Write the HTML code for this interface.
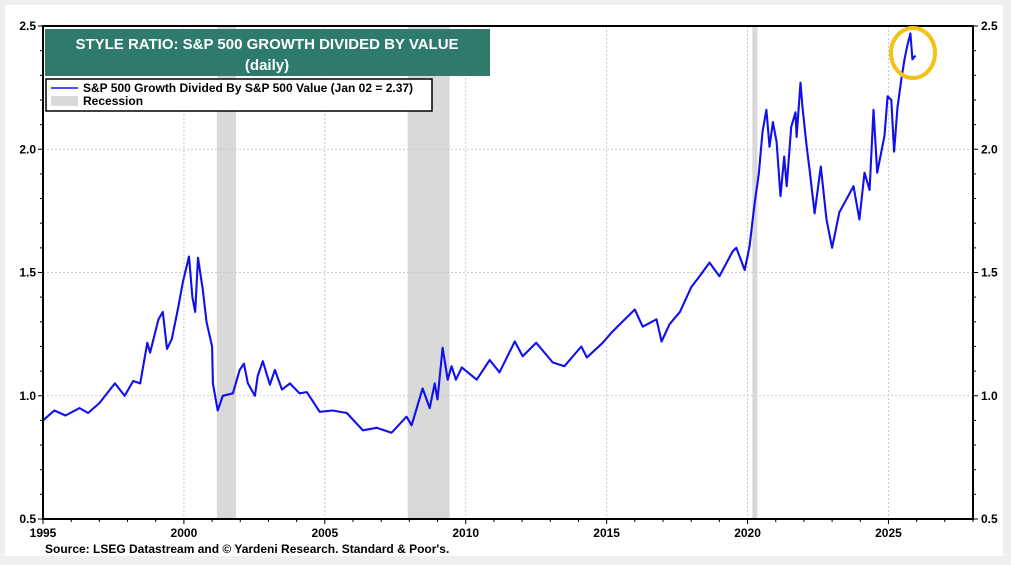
<!DOCTYPE html>
<html><head><meta charset="utf-8"><style>
body{margin:0;background:#efefef;font-family:"Liberation Sans",Arial,sans-serif;}
#wrap{position:absolute;left:0;top:0;width:1011px;height:565px;background:#efefef;}
#panel{position:absolute;left:5px;top:5px;width:998px;height:551px;background:#fff;}
svg{position:absolute;left:0;top:0;}
text{font-family:"Liberation Sans",Arial,sans-serif;font-weight:bold;fill:#000;}
</style></head><body>
<div id="wrap">
<div id="panel"></div>
<svg id="chart" width="1011" height="565"></svg>
</div>
<script>
const years=[1995,1995.4,1995.8,1996.3,1996.6,1997.0,1997.55,1997.9,1998.2,1998.45,1998.7,1998.8,1999.1,1999.25,1999.4,1999.57,1999.8,1999.96,2000.18,2000.3,2000.4,2000.5,2000.67,2000.8,2001.0,2001.03,2001.2,2001.38,2001.74,2001.98,2002.13,2002.27,2002.52,2002.62,2002.8,2003.05,2003.23,2003.48,2003.76,2004.1,2004.36,2004.82,2005.28,2005.78,2006.35,2006.84,2007.37,2007.9,2008.08,2008.47,2008.72,2008.9,2009.0,2009.18,2009.36,2009.5,2009.65,2009.86,2010.39,2010.85,2011.2,2011.74,2012.02,2012.5,2013.09,2013.5,2014.1,2014.3,2014.86,2015.2,2016.0,2016.28,2016.77,2016.95,2017.23,2017.6,2018.0,2018.3,2018.65,2019.0,2019.47,2019.6,2019.9,2020.07,2020.25,2020.4,2020.53,2020.67,2020.78,2020.9,2021.03,2021.17,2021.3,2021.39,2021.55,2021.7,2021.74,2021.88,2021.95,2022.1,2022.2,2022.38,2022.6,2022.8,2023.0,2023.26,2023.5,2023.76,2023.97,2024.15,2024.33,2024.47,2024.6,2024.86,2024.97,2025.1,2025.2,2025.32,2025.46,2025.57,2025.67,2025.78,2025.85,2025.96];
const ratio=[0.90,0.94,0.92,0.95,0.93,0.97,1.05,1.0,1.06,1.05,1.215,1.175,1.31,1.34,1.19,1.23,1.36,1.46,1.565,1.40,1.34,1.56,1.43,1.30,1.20,1.05,0.94,1.0,1.01,1.105,1.13,1.05,1.0,1.08,1.14,1.045,1.105,1.025,1.05,1.01,1.015,0.935,0.94,0.93,0.86,0.87,0.85,0.915,0.88,1.03,0.95,1.05,0.985,1.195,1.065,1.12,1.065,1.115,1.065,1.145,1.095,1.22,1.16,1.215,1.135,1.12,1.20,1.155,1.215,1.26,1.35,1.28,1.31,1.22,1.29,1.34,1.44,1.485,1.54,1.485,1.585,1.60,1.51,1.605,1.78,1.90,2.07,2.16,2.01,2.11,2.03,1.81,1.97,1.85,2.09,2.15,2.05,2.27,2.17,2.01,1.92,1.74,1.93,1.715,1.60,1.745,1.795,1.85,1.715,1.905,1.835,2.16,1.905,2.055,2.215,2.20,1.99,2.17,2.285,2.365,2.42,2.47,2.365,2.38];
const recStart=[2001.17,2007.94,2020.17];
const recEnd=[2001.85,2009.43,2020.35];
const yTicks=[0.5,1.0,1.5,2.0,2.5];
const yLabels=["0.5","1.0","1.5","2.0","2.5"];
const xTicks=[1995,2000,2005,2010,2015,2020,2025];

const L=43,R=973,T=26,B=519,X0=1995,X1=2028,Y0=0.5,Y1=2.5;
const sx=v=>L+(v-X0)/(X1-X0)*(R-L);
const sy=v=>B-(v-Y0)/(Y1-Y0)*(B-T);
const svg=document.getElementById('chart');
const NS='http://www.w3.org/2000/svg';
function mk(tag,attrs,parent){const e=document.createElementNS(NS,tag);for(const k in attrs)e.setAttribute(k,attrs[k]);(parent||svg).appendChild(e);return e;}

recStart.forEach((s,i)=>{
 const r=mk('rect',{x:sx(s),y:T,width:sx(recEnd[i])-sx(s),height:B-T,fill:'#d9d9d9'});
 
 
});
yTicks.slice(1,-1).forEach(v=>{
 const g=mk('line',{x1:L,x2:R,y1:sy(v),y2:sy(v),stroke:'#c8c8c8','stroke-dasharray':'2,2','stroke-width':1});
 
 
});
xTicks.slice(1).forEach(v=>{
 const g=mk('line',{x1:sx(v),x2:sx(v),y1:T,y2:B,stroke:'#c8c8c8','stroke-dasharray':'2,2','stroke-width':1});
 
 
});
const pts=years.map((y,i)=>sx(y).toFixed(1)+','+sy(ratio[i]).toFixed(1)).join(' ');
const line=mk('polyline',{points:pts,fill:'none',stroke:'#1010ee','stroke-width':2.1,'stroke-linejoin':'round'});


const fr=mk('rect',{x:L,y:T,width:R-L,height:B-T,fill:'none',stroke:'#000','stroke-width':2});


for(let k=0;k<=20;k++){const v=0.5+k*0.1;const major=k%5===0;
 const t1=mk('line',{x1:L-(major?5:3),x2:L,y1:sy(v),y2:sy(v),stroke:'#000','stroke-width':1});
 
 
 const t2=mk('line',{x1:R,x2:R+(major?5:3),y1:sy(v),y2:sy(v),stroke:'#000','stroke-width':1});
 
 
}
for(let y=1995;y<=2028;y++){const major=(y%5===0);
 const t=mk('line',{x1:sx(y),x2:sx(y),y1:B,y2:B+(major?5:3),stroke:'#000','stroke-width':1});
 
 
}
yTicks.forEach((v,i)=>{
 const a=mk('text',{x:L-7,y:sy(v)+4,'text-anchor':'end','font-size':12});a.textContent=yLabels[i];
 
 
 const b=mk('text',{x:R+8,y:sy(v)+4,'font-size':12});b.textContent=yLabels[i];
 
 
});
xTicks.forEach(v=>{
 const a=mk('text',{x:sx(v),y:537,'text-anchor':'middle','font-size':12});a.textContent=v;
 
 
});
const tb=mk('rect',{x:45,y:29,width:445,height:47,fill:'#2e7b6c'});


const t1=mk('text',{x:267,y:49,'text-anchor':'middle','font-size':15,style:'fill:#fff'});t1.textContent='STYLE RATIO: S&P 500 GROWTH DIVIDED BY VALUE';


const t2=mk('text',{x:267,y:70,'text-anchor':'middle','font-size':15,style:'fill:#fff'});t2.textContent='(daily)';


const lg=mk('rect',{x:46,y:79,width:386,height:32,fill:'#fff',stroke:'#000','stroke-width':1.5});


const ll=mk('line',{x1:51,x2:78,y1:88,y2:88,stroke:'#1010ee','stroke-width':1.5});


const lt=mk('text',{x:83,y:92,'font-size':12});lt.textContent='S&P 500 Growth Divided By S&P 500 Value (Jan 02 = 2.37)';


const lr=mk('rect',{x:51,y:96,width:27,height:10,fill:'#d9d9d9'});


const lt2=mk('text',{x:83,y:105,'font-size':12});lt2.textContent='Recession';


const c=mk('ellipse',{cx:913,cy:53,rx:22,ry:25,fill:'none',stroke:'#f2c218','stroke-width':4});


const s=mk('text',{x:45,y:553,'font-size':12});s.textContent="Source: LSEG Datastream and © Yardeni Research. Standard & Poor's.";


</script>
</body></html>
